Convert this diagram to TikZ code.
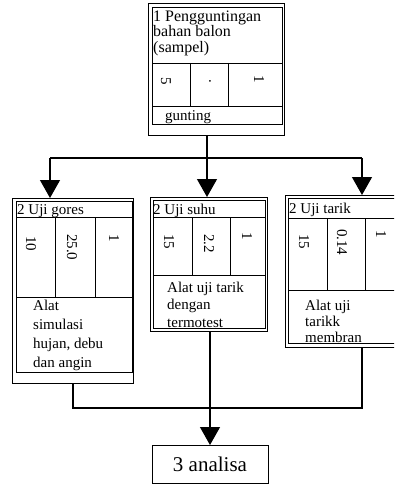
\documentclass[tikz,border=0pt]{standalone}
\usepackage{fontspec}
\setmainfont{Liberation Serif}
\usetikzlibrary{arrows.meta}
\begin{document}
\begin{tikzpicture}[x=1pt,y=-1pt,
  frame/.style={draw, line width=0.9pt, inner sep=0pt, outer sep=0pt},
  thin/.style={line width=0.8pt},
  txt/.style={inner sep=0pt, font=\fontsize{15}{17}\selectfont, anchor=base west},
  vtxt/.style={inner sep=0pt, font=\fontsize{15}{17}\selectfont, rotate=-90, anchor=west},
  conn/.style={line width=1.3pt},
  arr/.style={conn, -{Triangle[length=18pt,width=20pt]}}]
\useasboundingbox (0,0) rectangle (394,484);
\clip (0,0) rectangle (394,484);
% ---------- top box ----------
\node[frame, minimum width=136, minimum height=132, anchor=north west] (topF) at (148,3) {};
\draw[thin] (152,7) rectangle (282,124);
\draw[thin] (152,63) -- (282,63) (152,106) -- (282,106);
\draw[thin] (190,63) -- (190,106) (228,63) -- (228,106);
\node[txt, font=\fontsize{16}{18}\selectfont] (t1) at (153,22) {1 Pengguntingan};
\node[txt, font=\fontsize{16}{18}\selectfont] (t2) at (153,37) {bahan balon};
\node[txt, font=\fontsize{16}{18}\selectfont] (t3) at (153,53) {(sampel)};
\node[vtxt] (t4) at (166,77) {5};
\node[vtxt] (t5) at (210,79) {.};
\node[vtxt] (t6) at (259,75) {1};
\node[txt] (t7) at (165,121) {gunting};
% ---------- left box ----------
\node[frame, minimum width=121, minimum height=185, anchor=north west] (leftF) at (12,198) {};
\draw[thin] (16,201) rectangle (132,372);
\draw[thin] (16,217) -- (132,217) (16,297) -- (132,297);
\draw[thin] (55,217) -- (55,297) (95,217) -- (95,297);
\node[txt] (l1) at (17,214) {2 Uji gores};
\node[vtxt] (l2) at (31,236) {10};
\node[vtxt] (l3) at (72,234) {25.0};
\node[vtxt] (l4) at (114,234) {1};
\node[txt] (l5) at (33,310) {Alat};
\node[txt] (l6) at (33,329) {simulasi};
\node[txt] (l7) at (33,348) {hujan, debu};
\node[txt] (l8) at (33,367) {dan angin};
% ---------- middle box ----------
\node[frame, minimum width=117, minimum height=134, anchor=north west] (midF) at (150,197) {};
\draw[thin] (153,200) rectangle (265,328);
\draw[thin] (153,217) -- (265,217) (153,275) -- (265,275);
\draw[thin] (192,217) -- (192,275) (230,217) -- (230,275);
\node[txt] (m1) at (153,214) {2 Uji suhu};
\node[vtxt] (m2) at (169,234) {15};
\node[vtxt] (m3) at (209,234) {2.2};
\node[vtxt] (m4) at (247,232) {1};
\node[txt] (m5) at (167,292) {Alat uji tarik};
\node[txt] (m6) at (167,309) {dengan};
\node[txt] (m7) at (167,327) {termotest};
% ---------- right box ----------
\node[frame, minimum width=120, minimum height=152, anchor=north west] (rightF) at (285,195) {};
\draw[thin] (288,198) rectangle (402,343);
\draw[thin] (288,218) -- (402,218) (288,290) -- (402,290);
\draw[thin] (327,218) -- (327,290) (365,218) -- (365,290);
\node[txt] (r1) at (289,213) {2 Uji tarik};
\node[vtxt] (r2) at (304,234) {15};
\node[vtxt] (r3) at (342,229) {0.14};
\node[vtxt] (r4) at (381,230) {1};
\node[txt] (r5) at (305,310) {Alat uji};
\node[txt] (r6) at (305,326) {tarikk};
\node[txt] (r7) at (305,342) {membran};
% ---------- analisa box ----------
\node[frame, minimum width=116, minimum height=38, anchor=north west,
      font=\fontsize{21}{23}\selectfont] (ana) at (152,445) {3 analisa};
% ---------- connectors ----------
\coordinate (j0) at (207,158);
\coordinate (jl) at (50,158);
\coordinate (jr) at (362,158);
\coordinate (bl) at (73,408);
\coordinate (bm) at (210,408);
\coordinate (br) at (362,408);
\draw[conn] (topF.south -| j0) -- (j0);
\draw[conn] (jl) -- (jr);
\draw[arr] (jl) -- (jl |- leftF.north);
\draw[arr] (j0) -- (j0 |- midF.north);
\draw[arr] (jr) -- (jr |- rightF.north);
\draw[conn] (leftF.south -| bl) -- (bl) -- (br) -- (rightF.south -| br);
\draw[arr] (midF.south -| bm) -- (bm |- ana.north);
\end{tikzpicture}
\end{document}
